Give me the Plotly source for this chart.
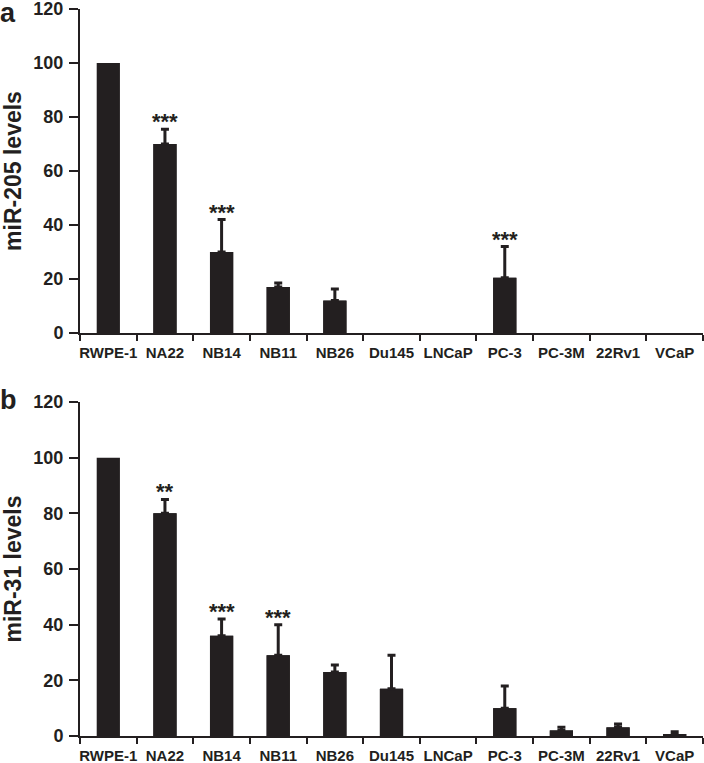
import plotly.graph_objects as go
from plotly.subplots import make_subplots

categories = ["RWPE-1", "NA22", "NB14", "NB11", "NB26", "Du145", "LNCaP", "PC-3", "PC-3M", "22Rv1", "VCaP"]

mir205_values = [100, 70, 30, 17, 12, 0, 0, 20.5, 0, 0, 0]
mir205_err_top = [100, 75.5, 42, 18.5, 16.3, 0, 0, 32, 0, 0, 0]
mir205_sig = ["", "***", "***", "", "", "", "", "***", "", "", ""]

mir31_values = [100, 80, 36, 29, 23, 17, 0, 10, 2, 3.1, 0.7]
mir31_err_top = [100, 85, 42, 40, 25.5, 29, 0, 18, 3.1, 4.3, 1.5]
mir31_sig = ["", "**", "***", "***", "", "", "", "", "", "", ""]

y_ticks = [0, 20, 40, 60, 80, 100, 120]

INK = "#231f20"
FONT = "Liberation Sans, Arial, Helvetica, sans-serif"

fig = make_subplots(rows=2, cols=1, vertical_spacing=0.0)

panels = [
    (mir205_values, mir205_err_top, mir205_sig, "miR-205 levels", 1),
    (mir31_values, mir31_err_top, mir31_sig, "miR-31 levels", 2),
]

for vals, tops, sig, title, row in panels:
    plus = [t - v for t, v in zip(tops, vals)]
    ys = [v if v > 0 else None for v in vals]
    fig.add_trace(
        go.Bar(x=categories, y=ys, marker=dict(color=INK, line=dict(width=0)),
               showlegend=False, hoverinfo="skip"),
        row=row, col=1,
    )
    # overlay trace carrying only the points that have an error bar
    ys_err = [v if p > 0 else None for v, p in zip(vals, plus)]
    fig.add_trace(
        go.Bar(
            x=categories, y=ys_err,
            marker=dict(color=INK, line=dict(width=0)),
            error_y=dict(type="data", symmetric=False, array=plus,
                         arrayminus=[0] * len(plus), color=INK,
                         thickness=3, width=4),
            showlegend=False,
        ),
        row=row, col=1,
    )
    for c, t, s in zip(categories, tops, sig):
        if s:
            fig.add_annotation(
                x=c, y=t, text="<b>" + s + "</b>", showarrow=False,
                xref="x" if row == 1 else "x2", yref="y" if row == 1 else "y2",
                yanchor="bottom", yshift=-7,
                font=dict(family=FONT, size=22, color=INK),
            )

axis_common = dict(
    showline=True, linecolor=INK, linewidth=2,
    ticks="outside", tickcolor=INK, tickwidth=2,
    showgrid=False, zeroline=False, automargin=False,
    ticklabeloverflow="allow",
)

for row, (_, _, _, title, _) in zip([1, 2], panels):
    fig.update_xaxes(
        **axis_common, type="category", tickson="boundaries", ticklen=6,
        tickangle=0, ticklabelstandoff=5,
        tickfont=dict(family=FONT, size=15, color=INK, weight="bold"),
        range=[-0.5, len(categories) - 0.5],
        row=row, col=1,
    )
    fig.update_yaxes(
        **axis_common, ticklen=9, ticklabelstandoff=2,
        tickfont=dict(family=FONT, size=18, color=INK, weight="bold"),
        range=[0, 120], tickvals=y_ticks,
        title=dict(text=title, standoff=6,
                   font=dict(family=FONT, size=23, color=INK, weight="bold")),
        row=row, col=1,
    )

T, B = 9, 27
PH = 763 - T - B

fig.update_layout(
    width=704, height=763,
    margin=dict(l=80, r=1, t=T, b=B),
    plot_bgcolor="white", paper_bgcolor="white",
    barmode="overlay",
    bargap=0.59,
    xaxis=dict(domain=[0, 1]),
    yaxis=dict(domain=[(763 - B - 333) / PH, 1.0]),
    xaxis2=dict(domain=[0, 1]),
    yaxis2=dict(domain=[0.0, (763 - B - 402) / PH]),
)

for label, ytop in [("a", -4), ("b", 383)]:
    fig.add_annotation(
        text="<b>" + label + "</b>", showarrow=False,
        xref="paper", yref="paper",
        x=-82 / 623, y=(763 - B - ytop) / PH,
        xanchor="left", yanchor="top",
        font=dict(family=FONT, size=27, color=INK),
    )

fig.write_html(
    "out.html",
    config={"displayModeBar": False},
    post_script="document.body.style.margin='0';document.body.style.overflow='hidden';",
)
